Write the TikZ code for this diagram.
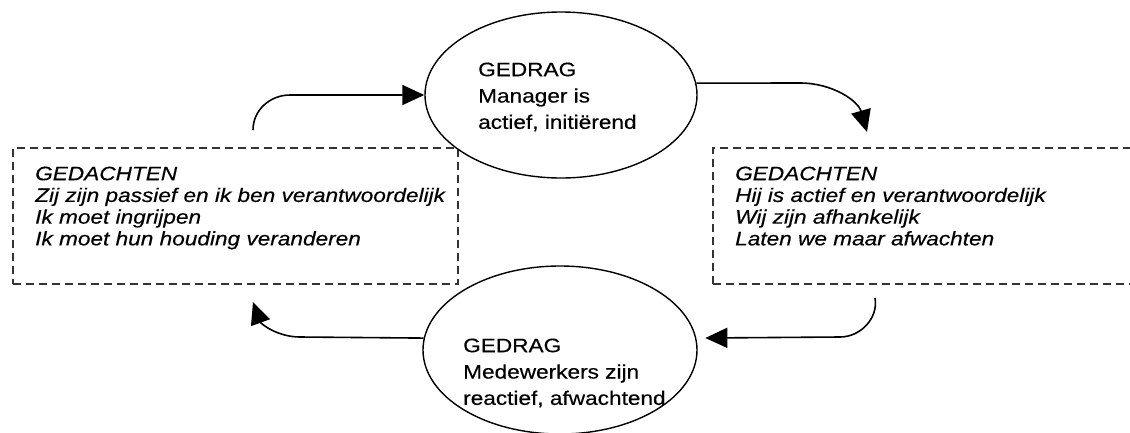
\documentclass[tikz,border=0pt]{standalone}
\usepackage{fontspec}
\setmainfont{Liberation Sans}[FakeStretch=1.16,FakeBold=0.4]
\usetikzlibrary{shapes.geometric,arrows.meta}

\begin{document}
\begin{tikzpicture}[x=1pt,y=1pt,
  thought/.style={draw=black!80, dash pattern=on 8pt off 5pt, line width=1.9pt,
    inner sep=0pt, anchor=north west},
  behaviour/.style={ellipse, draw, line width=1.4pt, inner sep=0pt},
  boxtext/.style={anchor=north west, inner sep=0pt, align=left,
    font=\fontsize{19.5}{21.7}\selectfont\itshape},
  elltext/.style={anchor=north west, inner sep=0pt, align=left,
    font=\fontsize{19.5}{26.3}\selectfont},
  flow/.style={line width=1.6pt, -{Triangle[length=22pt,width=20pt]}}
]
\path[use as bounding box, clip] (0,0) rectangle (1130,-432);

% thought boxes
\node[thought, minimum width=445pt, minimum height=136pt] (lbox) at (12,-147) {};
\node[thought, minimum width=440pt, minimum height=136pt] (rbox) at (712,-147) {};
\node[boxtext] (ltext) at (35,-166.4) {GEDACHTEN\\Zij zijn passief en ik ben verantwoordelijk\\Ik moet ingrijpen\\Ik moet hun houding veranderen};
\node[boxtext] (rtext) at (735,-166.4) {GEDACHTEN\\Hij is actief en verantwoordelijk\\Wij zijn afhankelijk\\Laten we maar afwachten};

% behaviour ellipses
\node[behaviour, minimum width=272pt, minimum height=166pt] (act) at (561,-95) {};
\node[behaviour, minimum width=274pt, minimum height=168pt] (bot) at (560,-350) {};
\node[elltext] (acttext) at (478,-62.4) {GEDRAG\\Manager is\\actief, initiërend};
\node[elltext] (bottext) at (463,-338.4) {GEDRAG\\Medewerkers zijn\\reactief, afwachtend};

% loose ends of the cycle arrows
\coordinate (ls) at (253,-130);
\coordinate (rs) at (867,-132);
\coordinate (rb) at (875,-298);
\coordinate (lb) at (253,-302);

\draw[flow] (ls) to[out=90,in=180] (290,-95) -- (act.west);
\draw[flow] (act.5) -- (800,-83) to[out=0,in=106] (rs);
\draw[flow, shorten >=9pt] (rb) to[out=-80,in=0] (840,-337) -- (bot.5);
\draw[flow] (bot.175) -- (300,-337) to[out=180,in=-70] (lb);
\end{tikzpicture}
\end{document}
